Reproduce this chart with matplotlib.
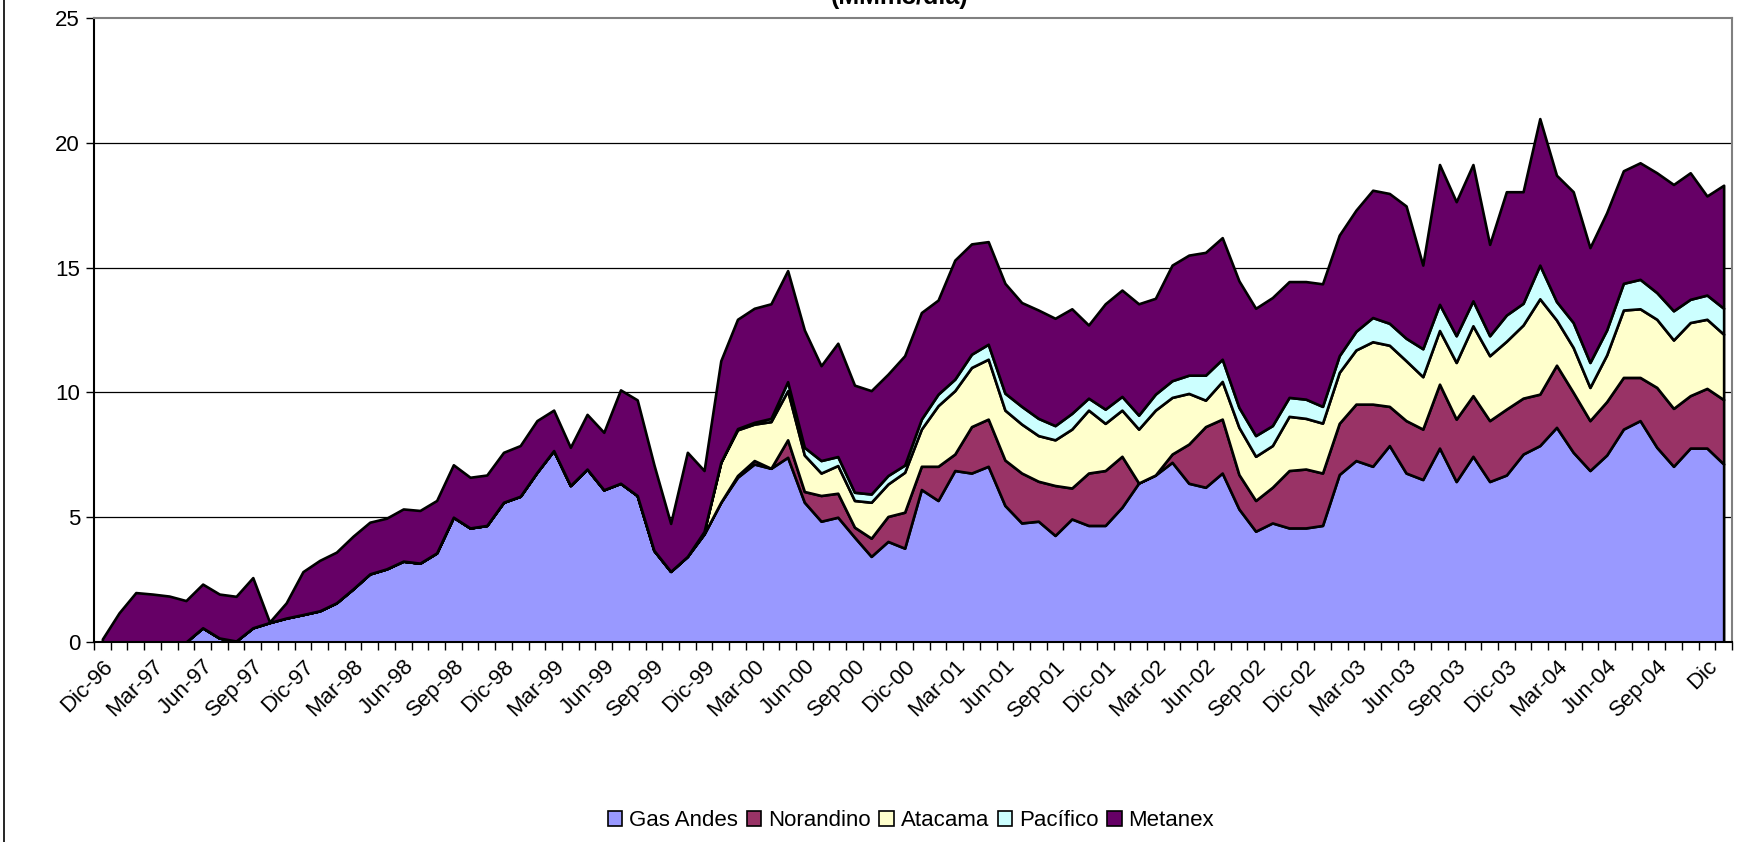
import matplotlib
matplotlib.use("Agg")
import matplotlib.pyplot as plt
from matplotlib.lines import Line2D
from matplotlib.patches import Patch
import numpy as np

plt.rcParams['font.family'] = ['Liberation Sans', 'DejaVu Sans']

tick_labels = ['Dic-96', 'Mar-97', 'Jun-97', 'Sep-97', 'Dic-97', 'Mar-98', 'Jun-98', 'Sep-98',
               'Dic-98', 'Mar-99', 'Jun-99', 'Sep-99', 'Dic-99', 'Mar-00', 'Jun-00', 'Sep-00',
               'Dic-00', 'Mar-01', 'Jun-01', 'Sep-01', 'Dic-01', 'Mar-02', 'Jun-02', 'Sep-02',
               'Dic-02', 'Mar-03', 'Jun-03', 'Sep-03', 'Dic-03', 'Mar-04', 'Jun-04', 'Sep-04', 'Dic']

series_names = ['Gas Andes', 'Norandino', 'Atacama', 'Pacífico', 'Metanex']

gas_andes = [0, 0, 0, 0, 0, 0, 0.57, 0.16, 0.04, 0.57, 0.78, 0.96, 1.1, 1.25, 1.57, 2.13,
             2.73, 2.93, 3.24, 3.16, 3.57, 5.0, 4.57, 4.67, 5.6, 5.84, 6.8, 7.67, 6.27, 6.93,
             6.1, 6.36, 5.87, 3.67, 2.83, 3.43, 4.33, 5.6, 6.6, 7.13, 6.96, 7.4, 5.6, 4.84,
             5.0, 4.2, 3.43, 4.03, 3.76, 6.11, 5.67, 6.87, 6.77, 7.04, 5.47, 4.77, 4.84, 4.27,
             4.93, 4.67, 4.67, 5.4, 6.37, 6.69, 7.2, 6.36, 6.2, 6.77, 5.33, 4.44, 4.77, 4.57,
             4.57, 4.67, 6.71, 7.27, 7.04, 7.87, 6.77, 6.51, 7.77, 6.43, 7.44, 6.43, 6.69, 7.53,
             7.87, 8.6, 7.6, 6.87, 7.49, 8.53, 8.87, 7.8, 7.04, 7.77, 7.77, 7.13]

norandino = [0] * 37 + [0, 0.07, 0.14, 0, 0.7, 0.43, 1.03, 0.96, 0.4, 0.73, 1.0, 1.44, 0.93,
             1.37, 0.66, 1.86, 1.89, 1.82, 2.0, 1.6, 2.0, 1.24, 2.1, 2.2, 2.04, 0, 0, 0.33,
             1.57, 2.43, 2.16, 1.38, 1.23, 1.43, 2.3, 2.36, 2.1, 2.05, 2.26, 2.49, 1.57, 2.1,
             2.02, 2.56, 2.5, 2.43, 2.44, 2.64, 2.24, 2.06, 2.49, 2.4, 2.0, 2.14, 2.07, 1.73,
             2.4, 2.32, 2.1, 2.39, 2.58]

atacama = [0] * 36 + [0.1, 1.6, 1.83, 1.46, 1.87, 1.97, 1.46, 0.9, 1.11, 1.07, 1.44, 1.3, 1.6,
           1.49, 2.43, 2.54, 2.37, 2.4, 2.0, 1.96, 1.83, 1.83, 2.36, 2.52, 1.89, 1.85, 2.16,
           2.6, 2.27, 2.03, 1.06, 1.51, 1.89, 1.77, 1.67, 2.17, 2.03, 2.0, 2.04, 2.17, 2.5,
           2.45, 2.4, 2.1, 2.15, 2.27, 2.8, 2.6, 2.72, 2.93, 3.82, 1.81, 1.8, 1.33, 1.87, 2.7,
           2.75, 2.73, 2.74, 2.93, 2.77, 2.62]

pacifico = [0] * 37 + [0, 0.05, 0.07, 0.13, 0.36, 0.31, 0.5, 0.36, 0.33, 0.33, 0.34, 0.29, 0.4,
            0.46, 0.46, 0.53, 0.6, 0.68, 0.71, 0.69, 0.57, 0.63, 0.48, 0.57, 0.55, 0.56, 0.64,
            0.67, 0.73, 1.0, 0.89, 0.8, 0.83, 0.8, 0.76, 0.77, 0.67, 0.67, 0.75, 0.97, 0.88,
            0.9, 1.12, 1.05, 1.07, 1.0, 0.8, 1.05, 0.87, 1.35, 0.74, 1.0, 1.0, 1.0, 1.07, 1.18,
            1.07, 1.17, 0.93, 0.97, 1.04]

metanex = [0.12, 1.17, 1.98, 1.92, 1.84, 1.66, 1.75, 1.76, 1.79, 2.01, 0.02, 0.61, 1.72, 2.02,
           2.03, 2.11, 2.07, 2.03, 2.09, 2.11, 2.1, 2.1, 2.03, 2.02, 2.0, 2.03, 2.07, 1.62, 1.53,
           2.19, 2.3, 3.74, 3.83, 3.43, 1.92, 4.17, 2.44, 4.07, 4.38, 4.57, 4.59, 4.45, 4.7,
           3.8, 4.54, 4.29, 4.14, 4.06, 4.38, 4.27, 3.77, 4.77, 4.42, 4.11, 4.4, 4.16, 4.34,
           4.3, 4.19, 2.93, 4.22, 4.26, 4.46, 3.84, 4.63, 4.81, 4.92, 4.87, 5.07, 5.1, 5.13,
           4.64, 4.71, 4.91, 4.83, 4.85, 5.1, 5.2, 5.3, 3.35, 5.6, 5.37, 5.46, 3.66, 4.94,
           4.47, 5.87, 5.06, 5.24, 4.6, 4.7, 4.51, 4.67, 4.8, 5.06, 5.07, 3.97, 4.93]

colors = ['#9999FF', '#993366', '#FFFFCC', '#CCFFFF', '#660066']

W, H = 1748, 842
FS = 16
fig = plt.figure(figsize=(W / 100, H / 100), dpi=100)
ax = fig.add_axes([94 / W, 1 - 642 / H, (1732 - 94) / W, (642 - 18) / H])

n = len(gas_andes)
x = np.arange(n)
ax.stackplot(x, gas_andes, norandino, atacama, pacifico, metanex,
             colors=colors, edgecolor='black', linewidth=1.9, zorder=3)

ax.set_xlim(-0.5, n - 0.5)
ax.set_ylim(0, 25)
ax.set_yticks([0, 5, 10, 15, 20, 25])
ax.tick_params(axis='y', labelsize=FS, length=6, width=1, direction='out', pad=4)
for yv in [5, 10, 15, 20]:
    ax.axhline(yv, color='black', linewidth=0.9, zorder=1)

label_pos = np.arange(0, n, 3)[:len(tick_labels)]
ax.set_xticks(label_pos)
ax.set_xticklabels(tick_labels, rotation=45, ha='right', rotation_mode='anchor', fontsize=FS)
ax.tick_params(axis='x', which='major', length=0, pad=10)
ax.set_xticks(np.arange(-0.5, n, 1.0), minor=True)
ax.tick_params(axis='x', which='minor', length=6, width=1, direction='out')

for s in ['top', 'right']:
    ax.spines[s].set_color('#808080')
    ax.spines[s].set_linewidth(1.5)
for s in ['left', 'bottom']:
    ax.spines[s].set_color('black')
    ax.spines[s].set_linewidth(1.5)
ax.spines['bottom'].set_zorder(5)

handles = [Patch(facecolor=c, edgecolor='black', linewidth=1.2) for c in colors]
fig.legend(handles, series_names, loc='center', bbox_to_anchor=(911 / W, 1 - 821 / H),
           ncol=5, frameon=False, fontsize=FS, handlelength=0.65, handleheight=0.65,
           handletextpad=0.3, columnspacing=0.4, borderaxespad=0)

fig.text(900 / W, 1 - 4 / H, '(MMm3/día)', ha='center', va='baseline',
         fontsize=18, fontweight='bold')

fig.add_artist(Line2D([3.5 / W, 3.5 / W], [0, 1], color='black', linewidth=1.2,
                      transform=fig.transFigure))

fig.savefig('out.png', dpi=100)
